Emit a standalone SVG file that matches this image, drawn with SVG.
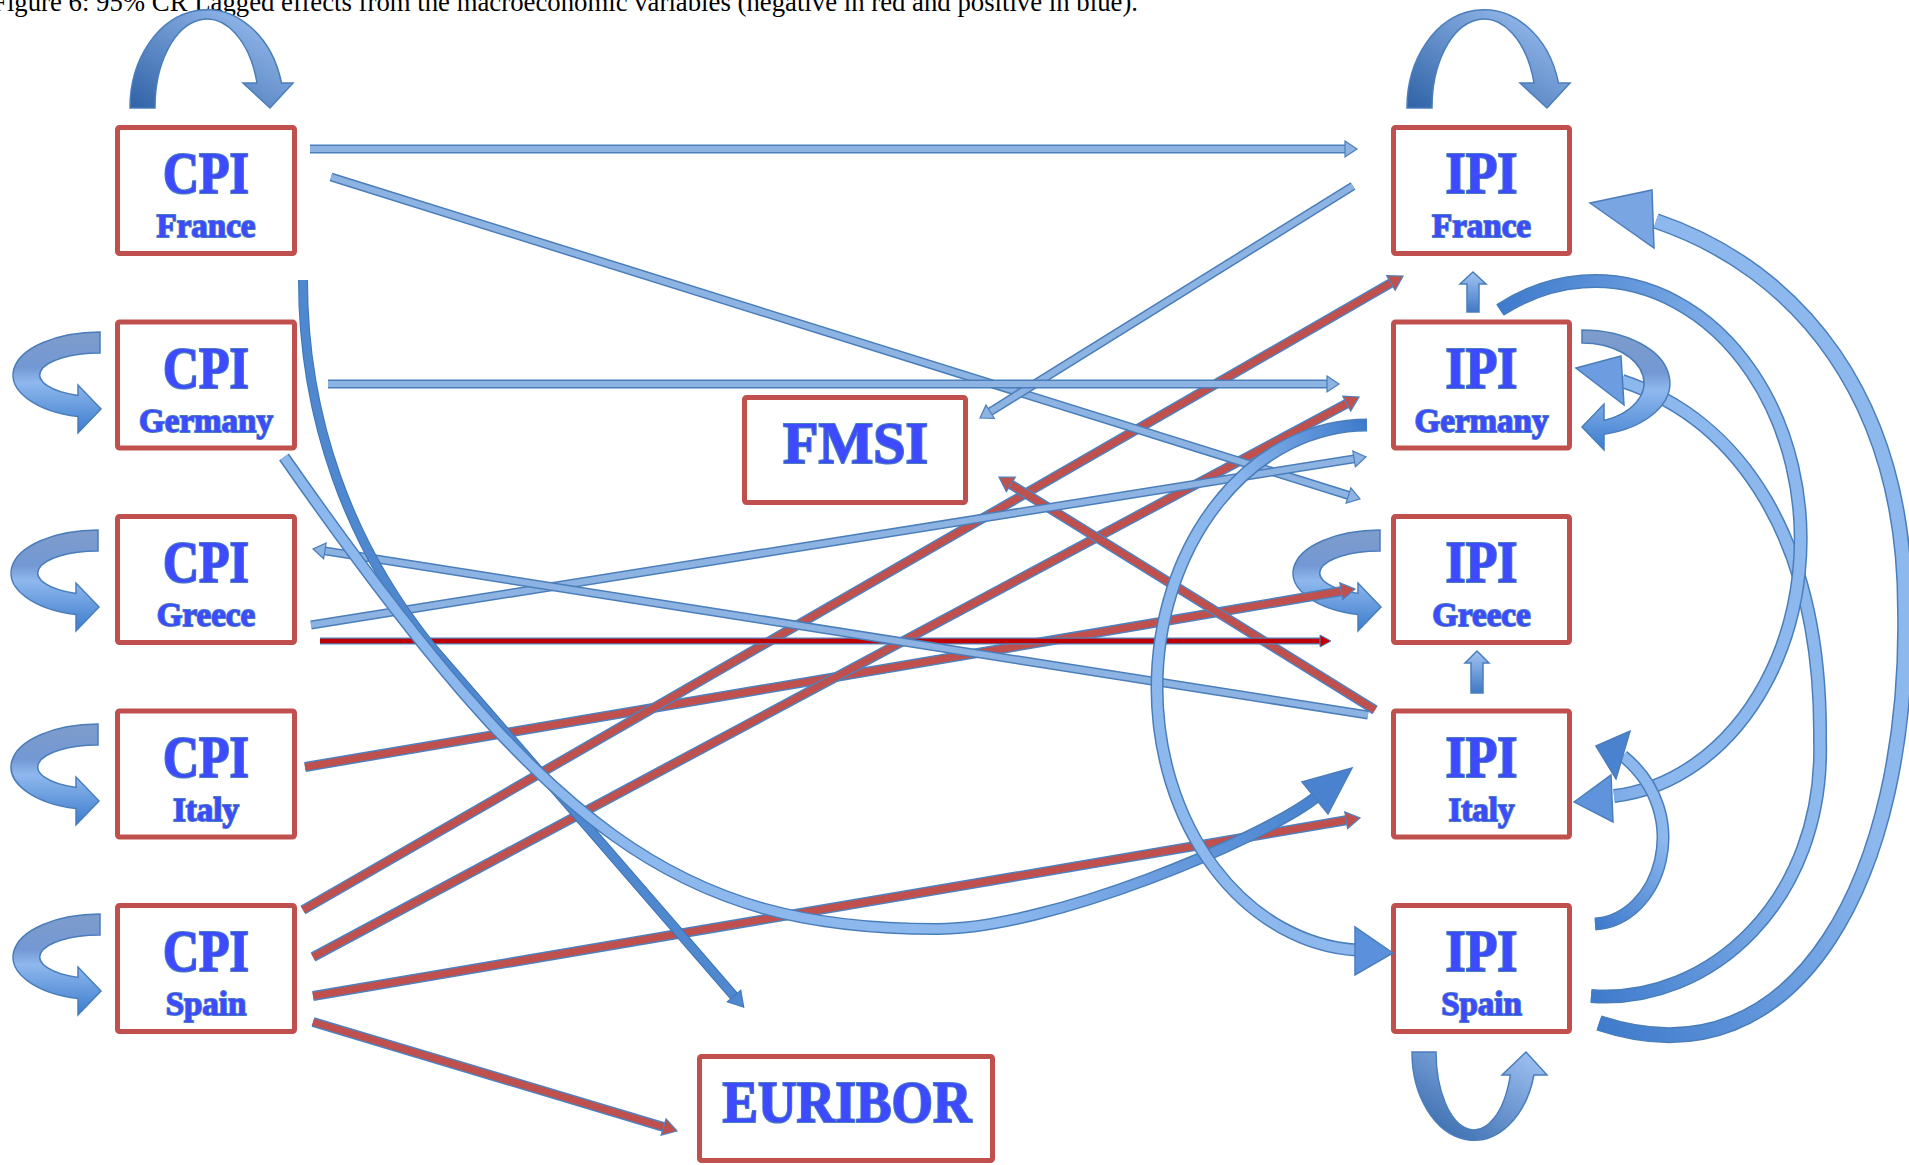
<svg xmlns="http://www.w3.org/2000/svg" width="1909" height="1165" viewBox="0 0 1909 1165">
<style>
.box{fill:#fff;stroke:#c0504d;stroke-width:5}
.t1{font-family:"Liberation Serif",serif;font-weight:bold;font-size:60px;fill:#3d4aff;stroke:#4a7ebb;stroke-width:2.2;paint-order:stroke;text-anchor:middle}
.t2{font-family:"Liberation Serif",serif;font-weight:bold;font-size:33px;fill:#3d4aff;stroke:#4a7ebb;stroke-width:1.8;paint-order:stroke;text-anchor:middle}
.cap{font-family:"Liberation Serif",serif;font-size:26.7px;fill:#000}
.bo{fill:none;stroke:#4a7ebb;stroke-width:9}
.bf{fill:none;stroke:#8db3e2;stroke-width:6}
.ro{fill:none;stroke:#4f81bd;stroke-width:10}
.rf{fill:none;stroke:#c0504d;stroke-width:7}
.do{fill:none;stroke:#4f81bd;stroke-width:7}
.df{fill:none;stroke:#c00000;stroke-width:4.5}
.ao{fill:none;stroke:#4a7ebb}
.loop{stroke:#4a7ebb;stroke-width:1.5}
.hd{stroke:#4a7ebb;stroke-width:1.5}
</style>
<defs>
<marker id="mb" markerUnits="userSpaceOnUse" viewBox="-1 -10 16 20" markerWidth="16" markerHeight="20" refX="0" refY="0" orient="auto" overflow="visible"><path d="M0,-8 L12,0 L0,8 Z" fill="#8db3e2" stroke="#4a7ebb" stroke-width="1.2"/></marker>
<marker id="mr" markerUnits="userSpaceOnUse" viewBox="-1 -10 17 20" markerWidth="17" markerHeight="20" refX="0" refY="0" orient="auto" overflow="visible"><path d="M0,-8.5 L14,0 L0,8.5 Z" fill="#c0504d" stroke="#4f81bd" stroke-width="1.2"/></marker>
<marker id="md" markerUnits="userSpaceOnUse" viewBox="-1 -8 14 16" markerWidth="14" markerHeight="16" refX="0" refY="0" orient="auto" overflow="visible"><path d="M0,-6 L11,0 L0,6 Z" fill="#c00000" stroke="#4f81bd" stroke-width="1"/></marker>
<marker id="mt" markerUnits="userSpaceOnUse" viewBox="-1 -11 18 22" markerWidth="18" markerHeight="22" refX="0" refY="0" orient="auto" overflow="visible"><path d="M0,-9 L15,0 L0,9 Z" fill="#4f88cf" stroke="#3f74b8" stroke-width="1"/></marker>
<linearGradient id="gTop" x1="0" y1="1" x2="1" y2="0"><stop offset="0" stop-color="#2f62a6"/><stop offset="1" stop-color="#a4c6f6"/></linearGradient>
<linearGradient id="gSide" x1="0" y1="0" x2="0" y2="1"><stop offset="0" stop-color="#7f9ccb"/><stop offset="0.35" stop-color="#7398d4"/><stop offset="0.5" stop-color="#8fb8ee"/><stop offset="1" stop-color="#3c7ccd"/></linearGradient>
<linearGradient id="gUp" x1="0" y1="0" x2="0" y2="1"><stop offset="0" stop-color="#a3c5f3"/><stop offset="1" stop-color="#3f78c4"/></linearGradient>
<linearGradient id="gA" gradientUnits="userSpaceOnUse" x1="1600" y1="1030" x2="1880" y2="850"><stop offset="0" stop-color="#3f7bcc"/><stop offset="1" stop-color="#8db8ee"/></linearGradient>
<linearGradient id="gB" gradientUnits="userSpaceOnUse" x1="1595" y1="996" x2="1800" y2="860"><stop offset="0" stop-color="#3f7bcc"/><stop offset="1" stop-color="#8db8ee"/></linearGradient>
<linearGradient id="gb" gradientUnits="userSpaceOnUse" x1="1500" y1="305" x2="1760" y2="360"><stop offset="0" stop-color="#3f7bcc"/><stop offset="1" stop-color="#8db8ee"/></linearGradient>
<linearGradient id="gC" gradientUnits="userSpaceOnUse" x1="1595" y1="924" x2="1665" y2="840"><stop offset="0" stop-color="#3f7bcc"/><stop offset="1" stop-color="#8db8ee"/></linearGradient>
<linearGradient id="gD" gradientUnits="userSpaceOnUse" x1="1367" y1="430" x2="1230" y2="480"><stop offset="0" stop-color="#3f7bcc"/><stop offset="1" stop-color="#8db8ee"/></linearGradient>
<linearGradient id="gL" gradientUnits="userSpaceOnUse" x1="1000" y1="925" x2="1300" y2="800"><stop offset="0" stop-color="#8db8ee"/><stop offset="1" stop-color="#4a84d0"/></linearGradient>
<path id="leftLoop" d="M0,13 A87,43 0 0 0 -22,97.6 L-22,114 L1,90 L-22,66 L-22,76.5 A60,22 0 0 1 0,34 Z"/>
<path id="topLoop" d="M130,108 A77,98 0 0 1 281.5,83 L293,83 L270,108 L243,83 L257,83 A52,88 0 0 0 155,108 Z"/>
</defs>
<rect x="0" y="0" width="1909" height="1165" fill="#fff"/>
<text class="cap" x="-8" y="11" textLength="1146" lengthAdjust="spacingAndGlyphs">Figure 6: 95% CR Lagged effects from the macroeconomic variables (negative in red and positive in blue).</text>

<g id="cpi-france"><rect class="box" x="117.5" y="127.5" width="177" height="126" rx="2"/><text class="t1" x="206" y="193" textLength="86" lengthAdjust="spacingAndGlyphs">CPI</text><text class="t2" x="206" y="237">France</text></g>
<g id="cpi-germany"><rect class="box" x="117.5" y="322" width="177" height="126" rx="2"/><text class="t1" x="206" y="387.5" textLength="86" lengthAdjust="spacingAndGlyphs">CPI</text><text class="t2" x="206" y="431.5">Germany</text></g>
<g id="cpi-greece"><rect class="box" x="117.5" y="516.5" width="177" height="126" rx="2"/><text class="t1" x="206" y="582" textLength="86" lengthAdjust="spacingAndGlyphs">CPI</text><text class="t2" x="206" y="626">Greece</text></g>
<g id="cpi-italy"><rect class="box" x="117.5" y="711" width="177" height="126" rx="2"/><text class="t1" x="206" y="776.5" textLength="86" lengthAdjust="spacingAndGlyphs">CPI</text><text class="t2" x="206" y="820.5">Italy</text></g>
<g id="cpi-spain"><rect class="box" x="117.5" y="905.5" width="177" height="126" rx="2"/><text class="t1" x="206" y="971" textLength="86" lengthAdjust="spacingAndGlyphs">CPI</text><text class="t2" x="206" y="1015">Spain</text></g>

<g id="ipi-france"><rect class="box" x="1393.5" y="127.5" width="176" height="126" rx="2"/><text class="t1" x="1481.5" y="193" textLength="72" lengthAdjust="spacingAndGlyphs">IPI</text><text class="t2" x="1481.5" y="237">France</text></g>
<g id="ipi-germany"><rect class="box" x="1393.5" y="322" width="176" height="126" rx="2"/><text class="t1" x="1481.5" y="387.5" textLength="72" lengthAdjust="spacingAndGlyphs">IPI</text><text class="t2" x="1481.5" y="431.5">Germany</text></g>
<g id="ipi-greece"><rect class="box" x="1393.5" y="516.5" width="176" height="126" rx="2"/><text class="t1" x="1481.5" y="582" textLength="72" lengthAdjust="spacingAndGlyphs">IPI</text><text class="t2" x="1481.5" y="626">Greece</text></g>
<g id="ipi-italy"><rect class="box" x="1393.5" y="711" width="176" height="126" rx="2"/><text class="t1" x="1481.5" y="776.5" textLength="72" lengthAdjust="spacingAndGlyphs">IPI</text><text class="t2" x="1481.5" y="820.5">Italy</text></g>
<g id="ipi-spain"><rect class="box" x="1393.5" y="905.5" width="176" height="126" rx="2"/><text class="t1" x="1481.5" y="971" textLength="72" lengthAdjust="spacingAndGlyphs">IPI</text><text class="t2" x="1481.5" y="1015">Spain</text></g>

<g id="fmsi"><rect class="box" x="744.5" y="397.5" width="221" height="105" rx="2"/><text class="t1" x="855.5" y="463" textLength="145" lengthAdjust="spacingAndGlyphs">FMSI</text></g>
<g id="euribor"><rect class="box" x="699.5" y="1056.5" width="293" height="104" rx="2"/><text class="t1" x="847" y="1122" textLength="249" lengthAdjust="spacingAndGlyphs">EURIBOR</text></g>

<g id="connectors">
<!-- self loops -->
<use href="#topLoop" class="loop" fill="url(#gTop)"/>
<use href="#topLoop" class="loop" fill="url(#gTop)" transform="translate(1277,0)"/>
<use href="#leftLoop" class="loop" fill="url(#gSide)" transform="translate(100,319)"/>
<use href="#leftLoop" class="loop" fill="url(#gSide)" transform="translate(98,517)"/>
<use href="#leftLoop" class="loop" fill="url(#gSide)" transform="translate(98,711)"/>
<use href="#leftLoop" class="loop" fill="url(#gSide)" transform="translate(100,901)"/>
<use href="#leftLoop" class="loop" fill="url(#gSide)" transform="translate(1380,517)"/>
<path class="loop" fill="url(#gTop)" d="M1412,1052 A62,88 0 0 0 1533.9,1075 L1547,1075 L1526,1052 L1502,1075 L1510.3,1075 A38,78 0 0 1 1436,1052 Z"/>

<!-- red lines -->
<g><line class="ro" x1="305" y1="767" x2="1341.2" y2="591.3"/><line class="rf" x1="305" y1="767" x2="1341.2" y2="591.3" marker-end="url(#mr)"/></g>
<g><line class="ro" x1="303" y1="910" x2="1390.9" y2="283"/><line class="rf" x1="303" y1="910" x2="1390.9" y2="283" marker-end="url(#mr)"/></g>
<g><line class="ro" x1="313" y1="957" x2="1346.7" y2="403.6"/><line class="rf" x1="313" y1="957" x2="1346.7" y2="403.6" marker-end="url(#mr)"/></g>
<g><line class="ro" x1="313" y1="996" x2="1346.2" y2="820.3"/><line class="rf" x1="313" y1="996" x2="1346.2" y2="820.3" marker-end="url(#mr)"/></g>
<g><line class="ro" x1="313" y1="1022" x2="663.6" y2="1127"/><line class="rf" x1="313" y1="1022" x2="663.6" y2="1127" marker-end="url(#mr)"/></g>
<g><line class="ro" x1="1375" y1="710" x2="1010.9" y2="484.4"/><line class="rf" x1="1375" y1="710" x2="1010.9" y2="484.4" marker-end="url(#mr)"/></g>
<g><line class="do" x1="320" y1="641" x2="1320" y2="641"/><line class="df" x1="320" y1="641" x2="1320" y2="641" marker-end="url(#md)"/></g>

<!-- blue lines -->
<g><line class="bo" x1="310" y1="149" x2="1345" y2="149"/><line class="bf" x1="310" y1="149" x2="1345" y2="149" marker-end="url(#mb)"/></g>
<g><line class="bo" x1="331" y1="177" x2="1348.5" y2="495.4"/><line class="bf" x1="331" y1="177" x2="1348.5" y2="495.4" marker-end="url(#mb)"/></g>
<g><line class="bo" x1="1353" y1="186" x2="990.2" y2="411.7"/><line class="bf" x1="1353" y1="186" x2="990.2" y2="411.7" marker-end="url(#mb)"/></g>
<g><line class="bo" x1="328" y1="384" x2="1327" y2="384"/><line class="bf" x1="328" y1="384" x2="1327" y2="384" marker-end="url(#mb)"/></g>
<g><line class="bo" x1="311" y1="625" x2="1354.1" y2="458.9"/><line class="bf" x1="311" y1="625" x2="1354.1" y2="458.9" marker-end="url(#mb)"/></g>
<g><line class="bo" x1="1368" y1="715" x2="324.9" y2="550.9"/><line class="bf" x1="1368" y1="715" x2="324.9" y2="550.9" marker-end="url(#mb)"/></g>

<!-- curves on the left -->
<path d="M303,280 C303,420 350,545 430,645 L734,996" fill="none" stroke="#3f74b8" stroke-width="10"/>
<path d="M303,280 C303,420 350,545 430,645 L734,996" fill="none" stroke="#4f88cf" stroke-width="8" marker-end="url(#mt)"/>
<path class="ao" stroke-width="12" d="M284,457 C548,835 679,929 937,929 C1050,929 1260,840 1315,798"/>
<path fill="none" stroke="url(#gL)" stroke-width="9" d="M284,457 C548,835 679,929 937,929 C1050,929 1260,840 1315,798"/>
<polygon class="hd" fill="#4a82d0" points="1352,768 1302,782 1328,814"/>

<!-- right side arcs -->
<path class="ao" stroke-width="13" d="M1367,425 A210,263 0 0 0 1157,688 A210,263 0 0 0 1356,950"/>
<path fill="none" stroke="url(#gD)" stroke-width="10" d="M1367,425 A210,263 0 0 0 1157,688 A210,263 0 0 0 1356,950"/>
<polygon class="hd" fill="#5a90dc" points="1393,953 1355,927 1355,975"/>

<path class="ao" stroke-width="16" d="M1599,1023 C1800,1090 1910,870 1905,609 C1905,400 1800,270 1656,221"/>
<path fill="none" stroke="url(#gA)" stroke-width="13" d="M1599,1023 C1800,1090 1910,870 1905,609 C1905,400 1800,270 1656,221"/>
<polygon class="hd" fill="#79a5e3" points="1590,203 1652,190 1654,248"/>

<path class="ao" stroke-width="14" d="M1591,996 C1710,1005 1825,900 1820,740 C1822,540 1740,420 1622,381"/>
<path fill="none" stroke="url(#gB)" stroke-width="11" d="M1591,996 C1710,1005 1825,900 1820,740 C1822,540 1740,420 1622,381"/>
<polygon class="hd" fill="#6d9de0" points="1576,368 1621,356 1624,405"/>

<path class="ao" stroke-width="14" d="M1500,310 A206,258 0 1 1 1614,796"/>
<path fill="none" stroke="url(#gb)" stroke-width="11" d="M1500,310 A206,258 0 1 1 1614,796"/>
<polygon class="hd" fill="#5f93dc" points="1574,802 1611,775 1613,822"/>

<path class="ao" stroke-width="13" d="M1595,924 C1660,920 1695,815 1623,756"/>
<path fill="none" stroke="url(#gC)" stroke-width="10" d="M1595,924 C1660,920 1695,815 1623,756"/>
<polygon class="hd" fill="#4a82d0" points="1596,746 1630,731 1616,779"/>

<!-- loop on IPI Germany -->
<path class="loop" fill="url(#gSide)" d="M1582,330 A88,53 0 0 1 1604,434.3 L1604,450 L1582,427 L1604,404 L1604,420.4 A62,40 0 0 0 1582,343 Z"/>

<!-- small up arrows -->
<polygon class="loop" fill="url(#gUp)" points="1473,272 1486,284 1479,284 1479,312 1467,312 1467,284 1460,284"/>
<polygon class="loop" fill="url(#gUp)" points="1477,651 1489,663 1483,663 1483,693 1471,693 1471,663 1465,663"/>
</g>
</svg>
